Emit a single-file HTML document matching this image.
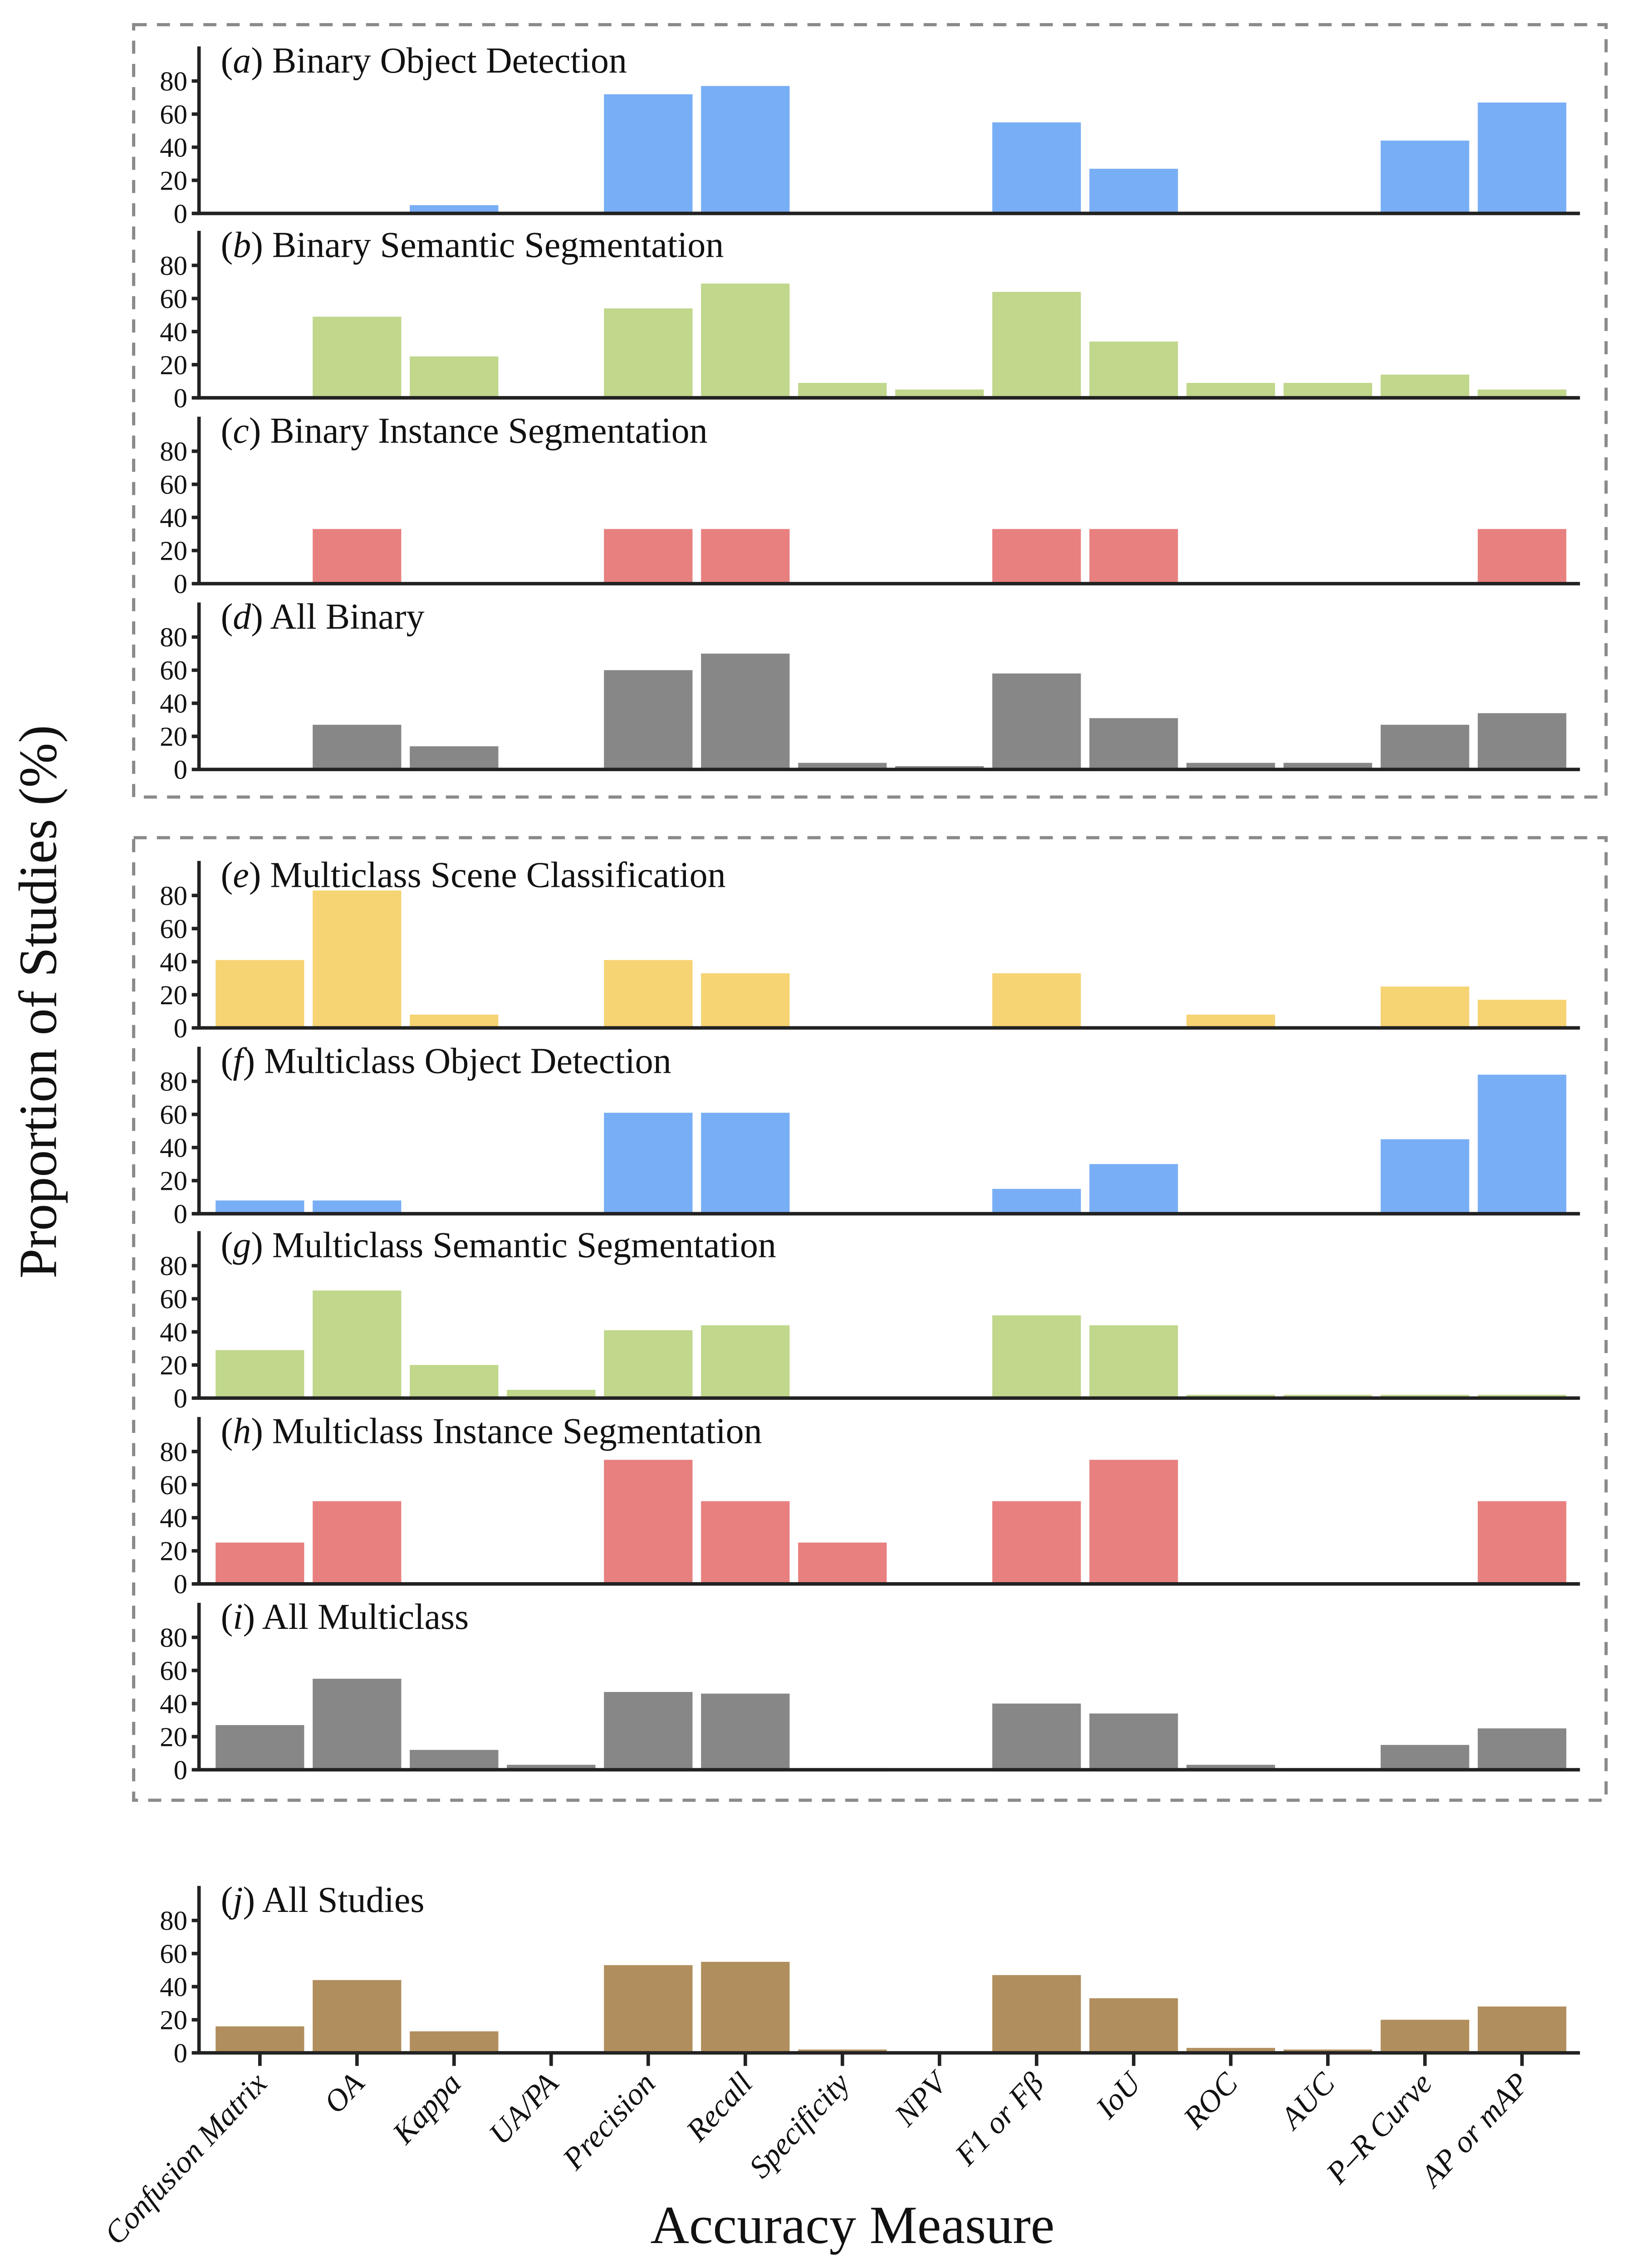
<!DOCTYPE html>
<html><head><meta charset="utf-8"><style>
html,body{margin:0;padding:0;background:#fff;width:3617px;height:5041px;overflow:hidden;position:relative;}
svg{display:block;position:absolute;left:0;top:0;}
text{font-family:"Liberation Serif",serif;fill:#111;}
</style></head><body>
<svg id="chart" width="3617" height="5041" viewBox="0 0 1130 1575" overflow="hidden" xmlns="http://www.w3.org/2000/svg">
<rect x="92" y="17" width="1014" height="532" fill="none" stroke="#8a8a8a" stroke-width="2.2" stroke-dasharray="9,7"/>
<rect x="92" y="577" width="1014" height="663" fill="none" stroke="#8a8a8a" stroke-width="2.2" stroke-dasharray="9,7"/>
<text x="30" y="690" font-size="37" text-anchor="middle" transform="rotate(-90 30 690)" dominant-baseline="middle">Proportion of Studies (%)</text>
<text x="587" y="1545" font-size="37" text-anchor="middle">Accuracy Measure</text>
<g id="panels"></g>
</svg>
<script>
const categories = ["Confusion Matrix","OA","Kappa","UA/PA","Precision","Recall","Specificity","NPV","F1 or F\u03B2","IoU","ROC","AUC","P\u2013R Curve","AP or mAP"];
const panelLetters = ["a","b","c","d","e","f","g","h","i","j"];
const panelTitles = ["Binary Object Detection","Binary Semantic Segmentation","Binary Instance Segmentation","All Binary","Multiclass Scene Classification","Multiclass Object Detection","Multiclass Semantic Segmentation","Multiclass Instance Segmentation","All Multiclass","All Studies"];
const valuesA = [0,0,5,0,72,77,0,0,55,27,0,0,44,67];
const valuesB = [0,49,25,0,54,69,9,5,64,34,9,9,14,5];
const valuesC = [0,33,0,0,33,33,0,0,33,33,0,0,0,33];
const valuesD = [0,27,14,0,60,70,4,2,58,31,4,4,27,34];
const valuesE = [41,83,8,0,41,33,0,0,33,0,8,0,25,17];
const valuesF = [8,8,0,0,61,61,0,0,15,30,0,0,45,84];
const valuesG = [29,65,20,5,41,44,0,0,50,44,2,2,2,2];
const valuesH = [25,50,0,0,75,50,25,0,50,75,0,0,0,50];
const valuesI = [27,55,12,3,47,46,1,0,40,34,3,1,15,25];
const valuesJ = [16,44,13,1,53,55,2,0,47,33,3,2,20,28];
const yTicks = [0,20,40,60,80];

const allValues=[valuesA,valuesB,valuesC,valuesD,valuesE,valuesF,valuesG,valuesH,valuesI,valuesJ];
const colors=["#78aef5","#c0d78c","#e88080","#878787","#f6d373","#78aef5","#c0d78c","#e88080","#878787","#b18e5d"];
const baselines=[147,274,402,530,708,836,963,1091,1219,1414];
const NS="http://www.w3.org/2000/svg";
const g=document.getElementById('panels');
const x0=145.5,slot=66.86,barW=61,pxPer=1.14;
function xScale(i){return x0+slot*i+slot/2;}
function yScale(v,base){return base-v*pxPer;}
function mk(tag,attrs,parent){const e=document.createElementNS(NS,tag);for(const k in attrs)e.setAttribute(k,attrs[k]);(parent||g).appendChild(e);return e;}
allValues.forEach((vals,p)=>{
  const base=baselines[p];
  const pg=mk('g',{});
  
  
  vals.forEach((v,i)=>{
    if(v<=0)return;
    const r=mk('rect',{x:xScale(i)-barW/2,y:yScale(v,base),width:barW,height:v*pxPer,fill:colors[p]},pg);
    
    
  });
  const ax=mk('path',{d:`M137,${base-115} L137,${base} L1088,${base}`,fill:'none',stroke:'#222','stroke-width':2.4},pg);
  
  
  yTicks.forEach(t=>{
    const y=yScale(t,base);
    mk('line',{x1:132,x2:137,y1:y,y2:y,stroke:'#222','stroke-width':2.4},pg);
    const tx=mk('text',{x:129,y:y+6.5,'font-size':19,'text-anchor':'end'},pg);
    tx.textContent=t;
    
    
  });
  const tt=mk('text',{x:152,y:base-97,'font-size':25},pg);
  
  
  const ts=document.createElementNS(NS,'tspan');ts.textContent='(';tt.appendChild(ts);
  const ti=document.createElementNS(NS,'tspan');ti.setAttribute('font-style','italic');ti.textContent=panelLetters[p];tt.appendChild(ti);
  const tr=document.createElementNS(NS,'tspan');tr.textContent=') '+panelTitles[p];tt.appendChild(tr);
});
const jb=baselines[9];
categories.forEach((c,i)=>{
  const x=xScale(i);
  mk('line',{x1:x,x2:x,y1:jb,y2:jb+9,stroke:'#222','stroke-width':2.4});
  const t=mk('text',{x:x+6,y:jb+22,'font-size':21.5,'font-style':'italic','text-anchor':'end',transform:`rotate(-47 ${x+6} ${jb+22})`});
  t.textContent=c;
  
  
});
</script>
</body></html>
